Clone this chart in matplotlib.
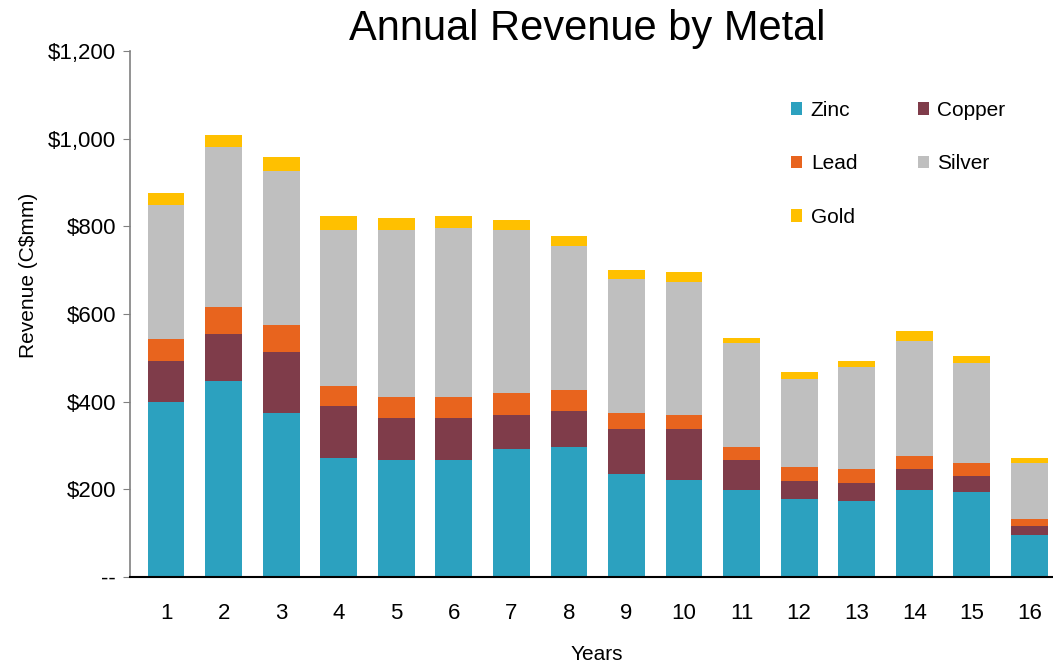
import matplotlib
matplotlib.use('Agg')
import numpy as np
import matplotlib.pyplot as plt
from matplotlib.patches import Patch
from matplotlib.ticker import FuncFormatter

plt.rcParams['font.family'] = ['Liberation Sans', 'DejaVu Sans']

years  = list(range(1, 17))
zinc   = [400, 447, 374, 271, 266, 266, 291, 296, 234, 221, 198, 178, 173, 198, 194, 96]
copper = [92, 107, 139, 119, 96, 96, 78, 82, 103, 116, 69, 41, 41, 48, 36, 20]
lead   = [51, 62, 61, 45, 48, 48, 50, 48, 37, 32, 29, 32, 32, 30, 30, 16]
silver = [305, 365, 352, 357, 382, 386, 373, 329, 306, 304, 237, 201, 232, 262, 228, 128]
gold   = [28, 27, 32, 31, 27, 27, 22, 22, 20, 23, 12, 16, 15, 23, 16, 11]

series = [('Zinc', zinc, '#2ca1bf'),
          ('Copper', copper, '#7f3c4a'),
          ('Lead', lead, '#e8641e'),
          ('Silver', silver, '#bfbfbf'),
          ('Gold', gold, '#ffc000')]

fig = plt.figure(figsize=(10.53, 6.68), dpi=100)
ax = fig.add_axes([130 / 1053, 1 - 577 / 668, 1 - 130 / 1053, 526 / 668])

bottom = np.zeros(len(years))
handles = {}
for name, vals, col in series:
    ax.bar(years, vals, bottom=bottom, width=0.64, color=col, linewidth=0)
    bottom += np.array(vals)
    handles[name] = Patch(facecolor=col, edgecolor='none')

ax.set_xlim(0.374, 16.41)
ax.set_ylim(0, 1200)
ax.set_yticks(range(0, 1201, 200))
ax.yaxis.set_major_formatter(FuncFormatter(lambda v, p: '--' if v == 0 else f'${v:,.0f}'))
ax.set_xticks(years)

for s in ['top', 'right']:
    ax.spines[s].set_visible(False)
ax.spines['left'].set_color('#808080')
ax.spines['left'].set_linewidth(1.2)
ax.spines['bottom'].set_color('black')
ax.spines['bottom'].set_linewidth(1.5)

ax.tick_params(axis='y', direction='out', length=5, color='#808080', labelsize=16, pad=5)
ax.tick_params(axis='x', length=0, labelsize=16, pad=19)

ax.set_ylabel('Revenue (C$mm)', fontsize=15)
ax.yaxis.set_label_coords(-92 / 923, (577 - 275) / 526)
ax.set_xlabel('Years', fontsize=15)
ax.xaxis.set_label_coords((597 - 130) / 923, -(645 - 577) / 526)
fig.text(587 / 1053, 1 - 29 / 668, 'Annual Revenue by Metal', fontsize=30,
         ha='center', va='center')

order = ['Zinc', 'Lead', 'Gold', 'Copper', 'Silver']
fig.legend([handles[n] for n in order], order, ncol=2, frameon=False,
           loc='upper left', bbox_to_anchor=(791 / 1053, 1 - 101 / 668),
           fontsize=15, handlelength=0.55, handleheight=0.55, handletextpad=0.4,
           labelspacing=1.65, columnspacing=2.9, borderpad=0, borderaxespad=0)

fig.savefig('out.png', dpi=100)
